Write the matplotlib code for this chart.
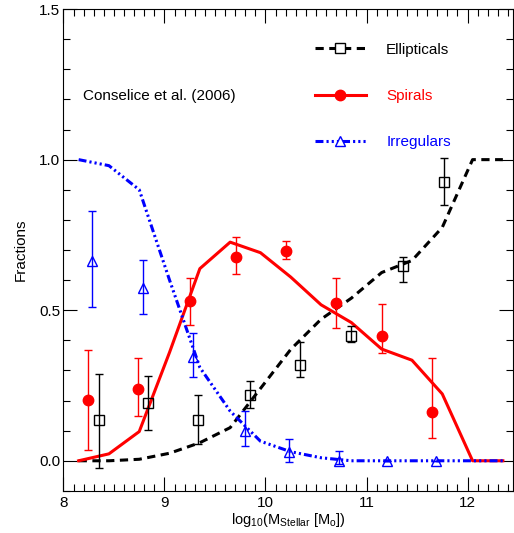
import matplotlib
matplotlib.use("Agg")
import matplotlib.pyplot as plt
from matplotlib.ticker import MultipleLocator

plt.rcParams['font.family'] = ['Liberation Sans', 'DejaVu Sans']
plt.rcParams['mathtext.fontset'] = 'custom'
plt.rcParams['mathtext.rm'] = 'Liberation Sans'
plt.rcParams['mathtext.it'] = 'Liberation Sans'
plt.rcParams['mathtext.default'] = 'regular'

# model curves
x_model = [8.15, 8.45, 8.75, 9.05, 9.35, 9.65, 9.95, 10.25, 10.55, 10.85, 11.15, 11.45, 11.75, 12.05, 12.35]
ell_model = [0.0, 0.0, 0.005, 0.025, 0.06, 0.11, 0.24, 0.37, 0.47, 0.54, 0.625, 0.665, 0.775, 1.0, 1.0]
spi_model = [0.0, 0.023, 0.097, 0.36, 0.638, 0.726, 0.691, 0.61, 0.518, 0.459, 0.371, 0.334, 0.222, 0.0, 0.0]
irr_model = [1.0, 0.98, 0.90, 0.60, 0.31, 0.165, 0.065, 0.03, 0.01, 0.0, 0.0, 0.0, 0.0, 0.0, 0.0]

# observed points (value, lower error, upper error)
ell_x = [8.35, 8.84, 9.33, 9.85, 10.34, 10.85, 11.36, 11.77]
ell_y = [0.134, 0.192, 0.137, 0.22, 0.319, 0.415, 0.647, 0.926]
ell_lo = [0.157, 0.089, 0.081, 0.045, 0.042, 0.022, 0.052, 0.078]
ell_hi = [0.154, 0.091, 0.083, 0.046, 0.076, 0.033, 0.031, 0.080]

spi_x = [8.24, 8.74, 9.25, 9.71, 10.20, 10.70, 11.155, 11.65]
spi_y = [0.203, 0.238, 0.529, 0.678, 0.696, 0.525, 0.415, 0.161]
spi_lo = [0.166, 0.090, 0.078, 0.059, 0.027, 0.083, 0.058, 0.086]
spi_hi = [0.166, 0.102, 0.079, 0.065, 0.033, 0.083, 0.105, 0.179]

irr_x = [8.28, 8.79, 9.28, 9.80, 10.235, 10.73, 11.20, 11.69]
irr_y = [0.665, 0.575, 0.343, 0.098, 0.029, 0.0, 0.0, 0.0]
irr_lo = [0.154, 0.088, 0.064, 0.049, 0.033, 0.01, 0.0, 0.0]
irr_hi = [0.164, 0.092, 0.080, 0.067, 0.044, 0.031, 0.0, 0.0]

fig = plt.figure(figsize=(5.14, 5.33), dpi=100)
ax = fig.add_axes([0.1235, 0.079, 0.8745, 0.904])

lw = 2.2
ell_dash = (2.7, 1.8)
irr_dash = (2.6, 1.0, 0.7, 1.0, 0.7, 1.0, 0.7, 1.0)

ax.plot(x_model, ell_model, color='black', lw=lw, dashes=ell_dash, zorder=2)
ax.plot(x_model, spi_model, color='red', lw=lw, zorder=2)
ax.plot(x_model, irr_model, color='blue', lw=lw, dashes=irr_dash, zorder=2)

ms = 7.5
ax.errorbar(ell_x, ell_y, yerr=[ell_lo, ell_hi], fmt='s', ms=ms, mfc='none', mec='black',
            mew=1.0, ecolor='black', elinewidth=1.0, capsize=3, capthick=1.0, zorder=3)
ax.errorbar(spi_x, spi_y, yerr=[spi_lo, spi_hi], fmt='o', ms=ms, mfc='red', mec='red',
            ecolor='red', elinewidth=1.0, capsize=3, capthick=1.0, zorder=3)
ax.errorbar(irr_x, irr_y, yerr=[irr_lo, irr_hi], fmt='^', ms=ms, mfc='none', mec='blue',
            mew=1.0, ecolor='blue', elinewidth=1.0, capsize=3, capthick=1.0, zorder=3)

# legend proxies
h_e, = ax.plot([], [], color='black', lw=lw, dashes=ell_dash, marker='s', ms=ms, mfc='white', mec='black', mew=1.0)
h_s, = ax.plot([], [], color='red', lw=lw, marker='o', ms=ms, mfc='red', mec='red')
h_i, = ax.plot([], [], color='blue', lw=lw, dashes=irr_dash, marker='^', ms=ms, mfc='white', mec='blue', mew=1.0)
leg = ax.legend([h_e, h_s, h_i], ['Ellipticals', 'Spirals', 'Irregulars'],
                loc='upper left', bbox_to_anchor=(0.559, 0.93), frameon=False,
                fontsize=11, handlelength=3.33, handletextpad=1.35, labelspacing=2.1,
                borderpad=0, borderaxespad=0, numpoints=1,
                labelcolor=['black', 'red', 'blue'])

ax.text(8.196, 1.212, 'Conselice et al. (2006)', fontsize=11, va='center', ha='left')

ax.set_xlim(8, 12.45)
ax.set_ylim(-0.1, 1.5)
ax.xaxis.set_major_locator(MultipleLocator(1))
ax.xaxis.set_minor_locator(MultipleLocator(0.1))
ax.yaxis.set_major_locator(MultipleLocator(0.5))
ax.yaxis.set_minor_locator(MultipleLocator(0.1))
ax.set_yticks([0.0, 0.5, 1.0, 1.5])
ax.set_yticklabels(['0.0', '0.5', '1.0', '1.5'])
ax.tick_params(which='both', direction='in', top=True, right=True, labelsize=11, width=0.8)
ax.tick_params(axis='x', which='both', pad=4)
ax.tick_params(axis='y', which='both', pad=2.5)
ax.tick_params(which='major', length=10)
ax.tick_params(which='minor', length=5)
for s in ax.spines.values():
    s.set_linewidth(0.8)

ax.set_xlabel(r'log$_{10}$(M$_{Stellar}$ [M$_{o}$])', fontsize=10.5, labelpad=0.5)
ax.set_ylabel('Fractions', fontsize=11, labelpad=8)

fig.savefig('out.png', dpi=100)
